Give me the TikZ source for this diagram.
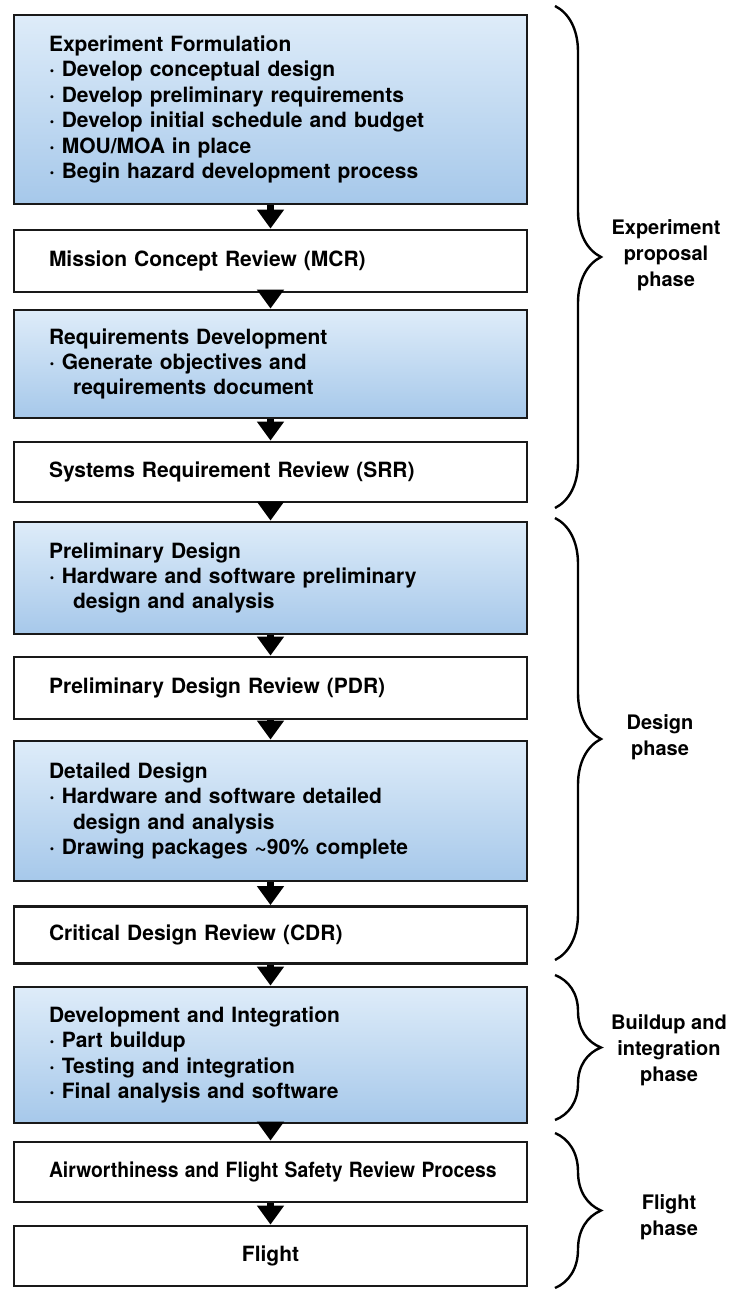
\documentclass[tikz,border=0pt]{standalone}
\usepackage{fontspec}
\usepackage{graphicx}
\setmainfont{TeX Gyre Heros}
\usetikzlibrary{arrows.meta,decorations.pathreplacing}
\definecolor{stagetop}{RGB}{222,236,249}
\definecolor{stagebot}{RGB}{166,200,234}

\tikzset{
  box/.style={draw=black!90, line width=2.8pt, minimum width=513pt,
    inner xsep=35pt, inner ysep=0pt, text width=443pt, align=left,
    font=\fontsize{21}{25.4}\selectfont\bfseries},
  stage/.style={box, top color=stagetop, bottom color=stagebot},
  review/.style={box, fill=white},
  flow/.style={line width=7pt, -{Triangle[width=26pt,length=19pt]}},
  phase/.style={decorate, decoration={brace, amplitude=46pt}, line width=2.4pt},
  phaselabel/.style={align=center, font=\fontsize{20}{26}\selectfont\bfseries}
}
\newcommand{\pt}{\textperiodcentered\ }

\begin{document}
\begin{tikzpicture}[x=1pt, y=-1pt]
  \useasboundingbox (0,0) rectangle (732,1289);
  \node[stage, minimum height=189pt] (ef) at (270.5,109.5)
    {Experiment Formulation\\ \pt Develop conceptual design\\ \pt Develop preliminary requirements\\
     \pt Develop initial schedule and budget\\ \pt MOU/MOA in place\\ \pt Begin hazard development process};
  \node[review, minimum height=62pt] (mcr) at (270.5,261) {Mission Concept Review (MCR)};
  \node[stage, minimum height=108pt] (rd) at (270.5,364)
    {Requirements Development\\ \pt Generate objectives and\\ \hspace*{24pt}requirements document};
  \node[review, minimum height=60pt] (srr) at (270.5,472) {Systems Requirement Review (SRR)};
  \node[stage, minimum height=112pt] (pd) at (270.5,578)
    {Preliminary Design\\ \pt Hardware and software preliminary\\ \hspace*{24pt}design and analysis};
  \node[review, minimum height=62pt] (pdr) at (270.5,688) {Preliminary Design Review (PDR)};
  \node[stage, minimum height=140pt] (dd) at (270.5,811)
    {Detailed Design\\ \pt Hardware and software detailed\\ \hspace*{24pt}design and analysis\\
     \pt Drawing packages \textasciitilde 90\% complete};
  \node[review, minimum height=57pt] (cdr) at (270.5,935) {Critical Design Review (CDR)};
  \node[stage, minimum height=136pt] (di) at (270.5,1055)
    {Development and Integration\\ \pt Part buildup\\ \pt Testing and integration\\ \pt Final analysis and software};
  \node[review, minimum height=60pt, align=center] (afs) at (270.5,1172)
    {\scalebox{0.92}[1]{Airworthiness and Flight Safety Review Process}};
  \node[review, minimum height=60pt, align=center] (fl) at (270.5,1256) {Flight};

  \draw[flow] (ef.south) -- (mcr.north);
  \draw[flow] (mcr.south) -- (rd.north);
  \draw[flow] (rd.south) -- (srr.north);
  \draw[flow] (srr.south) -- (pd.north);
  \draw[flow] (pd.south) -- (pdr.north);
  \draw[flow] (pdr.south) -- (dd.north);
  \draw[flow] (dd.south) -- (cdr.north);
  \draw[flow] (cdr.south) -- (di.north);
  \draw[flow] (di.south) -- (afs.north);
  \draw[flow] (afs.south) -- (fl.north);

  % phases
  \coordinate (p1a) at (555,6);    \coordinate (p1b) at (555,508);
  \coordinate (p2a) at (555,518);  \coordinate (p2b) at (555,960);
  \coordinate (p3a) at (555,975);  \coordinate (p3b) at (555,1120);
  \coordinate (p4a) at (555,1133); \coordinate (p4b) at (555,1288);
  \draw[phase] (p1a) -- (p1b);
  \draw[phase] (p2a) -- (p2b);
  \draw[phase] (p3a) -- (p3b);
  \draw[phase] (p4a) -- (p4b);
  \node[phaselabel] (l1) at (666,255) {Experiment\\ proposal\\ phase};
  \node[phaselabel] (l2) at (660,737) {Design\\ phase};
  \node[phaselabel] (l3) at (669,1050) {Buildup and\\ integration\\ phase};
  \node[phaselabel] (l4) at (669,1217) {Flight\\ phase};
\end{tikzpicture}
\end{document}
